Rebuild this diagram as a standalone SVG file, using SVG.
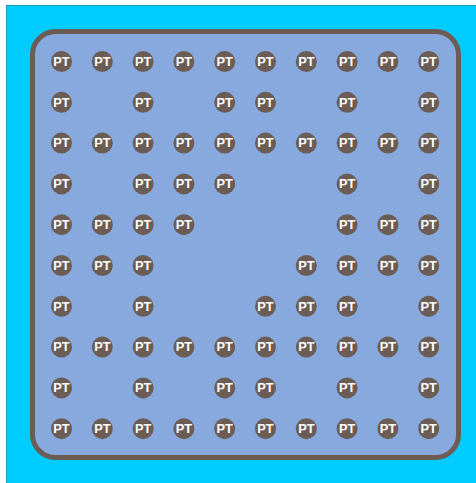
<svg xmlns="http://www.w3.org/2000/svg" width="476" height="483" viewBox="0 0 476 483">
<defs>
<style>
.pt circle{fill:#6b5d55}
.pt text{fill:#fff;font-family:"Liberation Sans",Arial,sans-serif;font-weight:bold;font-size:12.8px;text-anchor:middle;dominant-baseline:central}
</style>
<g id="p" class="pt"><circle r="10.5"/><text y="-0.3">PT</text></g>
</defs>
<rect x="0" y="0" width="476" height="483" fill="#fff"/>
<rect x="6.5" y="5.5" width="475" height="483" fill="#00ccff" stroke="#1a9fc0" stroke-width="1"/>
<g id="board">
<rect x="32.5" y="31.5" width="426" height="426" rx="23" ry="23" fill="#87a9dd" stroke="#6b5d55" stroke-width="5"/>
</g>
<g id="connectors"></g>
<g id="r0">
<use href="#p" x="61.5" y="61.5"/><use href="#p" x="102.3" y="61.5"/><use href="#p" x="143.1" y="61.5"/><use href="#p" x="183.9" y="61.5"/><use href="#p" x="224.7" y="61.5"/><use href="#p" x="265.5" y="61.5"/><use href="#p" x="306.3" y="61.5"/><use href="#p" x="347.1" y="61.5"/><use href="#p" x="387.9" y="61.5"/><use href="#p" x="428.7" y="61.5"/>
</g>
<g id="r1">
<use href="#p" x="61.5" y="102.3"/><use href="#p" x="143.1" y="102.3"/><use href="#p" x="224.7" y="102.3"/><use href="#p" x="265.5" y="102.3"/><use href="#p" x="347.1" y="102.3"/><use href="#p" x="428.7" y="102.3"/>
</g>
<g id="r2">
<use href="#p" x="61.5" y="143.1"/><use href="#p" x="102.3" y="143.1"/><use href="#p" x="143.1" y="143.1"/><use href="#p" x="183.9" y="143.1"/><use href="#p" x="224.7" y="143.1"/><use href="#p" x="265.5" y="143.1"/><use href="#p" x="306.3" y="143.1"/><use href="#p" x="347.1" y="143.1"/><use href="#p" x="387.9" y="143.1"/><use href="#p" x="428.7" y="143.1"/>
</g>
<g id="r3">
<use href="#p" x="61.5" y="183.9"/><use href="#p" x="143.1" y="183.9"/><use href="#p" x="183.9" y="183.9"/><use href="#p" x="224.7" y="183.9"/><use href="#p" x="347.1" y="183.9"/><use href="#p" x="428.7" y="183.9"/>
</g>
<g id="r4">
<use href="#p" x="61.5" y="224.7"/><use href="#p" x="102.3" y="224.7"/><use href="#p" x="143.1" y="224.7"/><use href="#p" x="183.9" y="224.7"/><use href="#p" x="347.1" y="224.7"/><use href="#p" x="387.9" y="224.7"/><use href="#p" x="428.7" y="224.7"/>
</g>
<g id="r5">
<use href="#p" x="61.5" y="265.5"/><use href="#p" x="102.3" y="265.5"/><use href="#p" x="143.1" y="265.5"/><use href="#p" x="306.3" y="265.5"/><use href="#p" x="347.1" y="265.5"/><use href="#p" x="387.9" y="265.5"/><use href="#p" x="428.7" y="265.5"/>
</g>
<g id="r6">
<use href="#p" x="61.5" y="306.3"/><use href="#p" x="143.1" y="306.3"/><use href="#p" x="265.5" y="306.3"/><use href="#p" x="306.3" y="306.3"/><use href="#p" x="347.1" y="306.3"/><use href="#p" x="428.7" y="306.3"/>
</g>
<g id="r7">
<use href="#p" x="61.5" y="347.1"/><use href="#p" x="102.3" y="347.1"/><use href="#p" x="143.1" y="347.1"/><use href="#p" x="183.9" y="347.1"/><use href="#p" x="224.7" y="347.1"/><use href="#p" x="265.5" y="347.1"/><use href="#p" x="306.3" y="347.1"/><use href="#p" x="347.1" y="347.1"/><use href="#p" x="387.9" y="347.1"/><use href="#p" x="428.7" y="347.1"/>
</g>
<g id="r8">
<use href="#p" x="61.5" y="387.9"/><use href="#p" x="143.1" y="387.9"/><use href="#p" x="224.7" y="387.9"/><use href="#p" x="265.5" y="387.9"/><use href="#p" x="347.1" y="387.9"/><use href="#p" x="428.7" y="387.9"/>
</g>
<g id="r9">
<use href="#p" x="61.5" y="428.7"/><use href="#p" x="102.3" y="428.7"/><use href="#p" x="143.1" y="428.7"/><use href="#p" x="183.9" y="428.7"/><use href="#p" x="224.7" y="428.7"/><use href="#p" x="265.5" y="428.7"/><use href="#p" x="306.3" y="428.7"/><use href="#p" x="347.1" y="428.7"/><use href="#p" x="387.9" y="428.7"/><use href="#p" x="428.7" y="428.7"/>
</g>
</svg>
